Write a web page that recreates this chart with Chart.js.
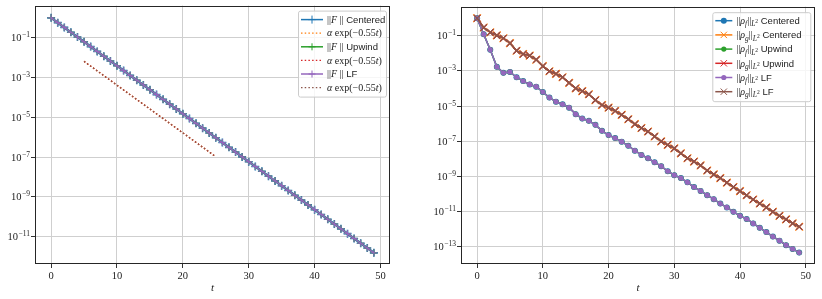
<!DOCTYPE html>
<html>
<head>
<meta charset="utf-8">
<script src="https://cdn.jsdelivr.net/npm/chart.js@4.4.1/dist/chart.umd.min.js"></script>
<style>
html, body { margin: 0; padding: 0; background: #fff; }
#wrap { position: relative; width: 822px; height: 299px; }
#wrap canvas { position: absolute; top: 0; }
</style>
</head>
<body>
<div id="wrap">
  <canvas id="leftChart" width="411" height="299" style="left:0"></canvas>
  <canvas id="rightChart" width="411" height="299" style="left:411px"></canvas>
</div>
<script>
// ---- data ----
const tValues = [0,1,2,3,4,5,6,7,8,9,10,11,12,13,14,15,16,17,18,19,20,21,22,23,24,
                 25,26,27,28,29,30,31,32,33,34,35,36,37,38,39,40,41,42,43,44,45,46,47,48,49];

// ||F|| for the three schemes (they lie on top of each other)
const fCentered = [1.0e0,5.74e-1,3.30e-1,1.89e-1,1.09e-1,6.24e-2,3.58e-2,2.06e-2,1.18e-2,6.78e-3,
                   3.89e-3,2.23e-3,1.28e-3,7.36e-4,4.23e-4,2.43e-4,1.39e-4,8.00e-5,4.59e-5,2.64e-5,
                   1.51e-5,8.69e-6,4.99e-6,2.86e-6,1.64e-6,9.44e-7,5.42e-7,3.11e-7,1.79e-7,1.03e-7,
                   5.89e-8,3.38e-8,1.94e-8,1.11e-8,6.40e-9,3.67e-9,2.11e-9,1.21e-9,6.95e-10,3.99e-10,
                   2.29e-10,1.32e-10,7.55e-11,4.34e-11,2.49e-11,1.43e-11,8.20e-12,4.71e-12,2.70e-12,1.55e-12];
const fUpwind = fCentered.slice();
const fLF = fCentered.slice();

// reference line alpha*exp(-0.55 t), drawn from t=5 to t=25
const refT = [5, 25];
const refValues = [6.5e-3, 1.05e-7];

// ||rho_f|| and ||rho_g|| (all schemes coincide)
const rhoF = [1.0e0,1.23e-1,1.62e-2,1.70e-3,7.76e-4,8.71e-4,4.37e-4,2.63e-4,1.70e-4,1.26e-4,
              6.31e-5,3.02e-5,1.78e-5,1.26e-5,8.13e-6,3.47e-6,1.95e-6,1.45e-6,8.51e-7,3.89e-7,
              2.24e-7,1.51e-7,9.33e-8,5.50e-8,2.88e-8,1.66e-8,1.07e-8,6.31e-9,3.80e-9,1.95e-9,
              1.17e-9,7.94e-10,4.57e-10,2.45e-10,1.48e-10,8.51e-11,5.01e-11,2.82e-11,1.70e-11,9.55e-12,
              5.62e-12,3.72e-12,2.09e-12,1.17e-12,6.76e-13,3.72e-13,2.19e-13,1.20e-13,7.41e-14,4.57e-14];
const rhoG = [1.0e0,2.95e-1,1.55e-1,1.05e-1,7.24e-2,3.80e-2,1.41e-2,9.12e-3,7.41e-3,4.37e-3,
              1.86e-3,9.55e-4,6.76e-4,4.37e-4,2.09e-4,1.02e-4,7.08e-5,4.68e-5,2.19e-5,1.15e-5,
              8.13e-6,5.25e-6,3.16e-6,1.78e-6,9.33e-7,5.62e-7,3.55e-7,1.86e-7,9.77e-8,6.17e-8,
              3.89e-8,2.04e-8,1.07e-8,6.92e-9,4.17e-9,2.14e-9,1.29e-9,7.94e-10,4.37e-10,2.45e-10,
              1.45e-10,8.32e-11,4.79e-11,2.82e-11,1.70e-11,9.55e-12,5.62e-12,3.55e-12,2.09e-12,1.35e-12];

// axis ticks and limits
const xTicks = [0, 10, 20, 30, 40, 50];
const xLimits = [-2.45, 51.45];
const leftYExponents = [-1, -3, -5, -7, -9, -11];
const rightYExponents = [-1, -3, -5, -7, -9, -11, -13];
const leftYLimits = [-12.37, 0.615];   // log10
const rightYLimits = [-13.99, 0.655];  // log10

// matplotlib tab10
const C = ['#1f77b4', '#ff7f0e', '#2ca02c', '#d62728', '#9467bd', '#8c564b'];

const pts = (xs, ys) => xs.map((x, i) => ({ x: x, y: ys[i] }));

// rich legend labels: [text, style]
const leftLegend = [
    [['||', 'm'], ['F', 'i'], [' ||', 'm'], [' Centered', 's']],
    [['α', 'i'], [' exp(−0.55', 'm'], ['t', 'i'], [')', 'm']],
    [['||', 'm'], ['F', 'i'], [' ||', 'm'], [' Upwind', 's']],
    [['α', 'i'], [' exp(−0.55', 'm'], ['t', 'i'], [')', 'm']],
    [['||', 'm'], ['F', 'i'], [' ||', 'm'], [' LF', 's']],
    [['α', 'i'], [' exp(−0.55', 'm'], ['t', 'i'], [')', 'm']]
];
const rhoLabel = (s, name) => [['||', 'm'], ['ρ', 'i'], [s, 'sub'], ['||', 'm'], ['L', 'sub'], ['2', 'subsup'], [' ' + name, 's']];
const rightLegend = [
    rhoLabel('f', 'Centered'), rhoLabel('g', 'Centered'),
    rhoLabel('f', 'Upwind'), rhoLabel('g', 'Upwind'),
    rhoLabel('f', 'LF'), rhoLabel('g', 'LF')
];

const FONTS = {
    m: { font: '10px "Liberation Serif"', dy: 0 },
    i: { font: 'italic 10px "Liberation Serif"', dy: 0 },
    s: { font: '9.5px "Liberation Sans"', dy: 0 },
    sub: { font: 'italic 7.5px "Liberation Serif"', dy: 2.5 },
    subsup: { font: '5.5px "Liberation Serif"', dy: -0.5 }
};

// frame, y tick labels, x title, and legend
const decoPlugin = {
    id: 'deco',
    afterDraw(chart, args, opts) {
        const ctx = chart.ctx;
        const a = chart.chartArea;
        ctx.save();

        // spines
        ctx.strokeStyle = '#262626';
        ctx.lineWidth = 1;
        ctx.strokeRect(Math.round(a.left) + 0.5, Math.round(a.top) + 0.5,
                       Math.round(a.right - a.left) - 1, Math.round(a.bottom - a.top) - 1);

        // y tick labels 10^n
        const ys = chart.scales.y;
        ctx.fillStyle = '#222';
        ctx.textBaseline = 'alphabetic';
        ctx.textAlign = 'left';
        ys.ticks.forEach(tk => {
            const py = ys.getPixelForValue(tk.value);
            const e = Math.round(Math.log10(tk.value));
            const expTxt = (e < 0 ? '−' : '') + Math.abs(e);
            ctx.font = '7.5px "Liberation Serif"';
            const we = ctx.measureText(expTxt).width;
            ctx.font = '10.5px "Liberation Serif"';
            const wb = ctx.measureText('10').width;
            const right = a.left - 5;
            ctx.fillText('10', right - we - wb - 0.5, py + 3.5);
            ctx.font = '7.5px "Liberation Serif"';
            ctx.fillText(expTxt, right - we, py - 0.5);
        });

        // x axis title
        ctx.font = 'italic 11px "Liberation Serif"';
        ctx.textAlign = 'center';
        ctx.fillText('t', (a.left + a.right) / 2, 291);

        // legend box
        const L = opts;
        const bx = a.right - L.offRight - L.width;
        const by = a.top + L.offTop;
        ctx.beginPath();
        ctx.roundRect(bx + 0.5, by + 0.5, L.width, L.height, 2);
        ctx.fillStyle = 'rgba(255,255,255,0.8)';
        ctx.fill();
        ctx.strokeStyle = '#cccccc';
        ctx.lineWidth = 1;
        ctx.stroke();

        chart.data.datasets.forEach((ds, i) => {
            const cy = by + L.rowStart + i * L.rowH;
            const x0 = bx + 3, x1 = x0 + L.handle;
            ctx.save();
            ctx.strokeStyle = ds.borderColor;
            ctx.lineWidth = Math.min(ds.borderWidth, 1.5);
            ctx.setLineDash(ds.borderDash || []);
            ctx.beginPath();
            ctx.moveTo(x0, cy);
            ctx.lineTo(x1, cy);
            ctx.stroke();
            ctx.restore();
            if (ds.pointRadius > 0) {
                ctx.save();
                ctx.strokeStyle = ds.borderColor;
                ctx.fillStyle = ds.backgroundColor;
                Chart.helpers.drawPoint(ctx, {
                    pointStyle: ds.pointStyle, radius: Math.min(ds.pointRadius, 4.5),
                    rotation: 0, borderWidth: Math.min(ds.pointBorderWidth, 1.2)
                }, (x0 + x1) / 2, cy);
                ctx.restore();
            }
            // text
            let tx = x1 + 4;
            ctx.fillStyle = '#222';
            ctx.textAlign = 'left';
            ctx.textBaseline = 'alphabetic';
            L.labels[i].forEach(([txt, st]) => {
                ctx.font = FONTS[st].font;
                ctx.fillText(txt, tx, cy + 3.2 + FONTS[st].dy);
                tx += ctx.measureText(txt).width;
            });
        });

        ctx.restore();
    }
};

function makeScales(yLimits, yExps, yWidth) {
    const grid = { color: '#cfcfcf', lineWidth: 1, tickColor: '#333', tickLength: 4, tickWidth: 1 };
    return {
        x: {
            type: 'linear',
            min: xLimits[0], max: xLimits[1],
            afterBuildTicks: s => { s.ticks = xTicks.map(v => ({ value: v })); },
            afterFit: s => { s.height = 35; },
            grid: grid,
            border: { display: false },
            ticks: { color: '#222', padding: 2, maxRotation: 0,
                     font: { family: 'Liberation Serif', size: 10.5 } }
        },
        y: {
            type: 'logarithmic',
            min: Math.pow(10, yLimits[0]), max: Math.pow(10, yLimits[1]),
            afterBuildTicks: s => { s.ticks = yExps.map(e => ({ value: Math.pow(10, e) })); },
            afterFit: s => { s.width = yWidth; },
            grid: grid,
            border: { display: false },
            ticks: { display: false }
        }
    };
}

document.addEventListener('DOMContentLoaded', function() {

    // ================= Left: ||F|| =================
    const fSeries = [fCentered, fUpwind, fLF];
    const leftSets = [];
    fSeries.forEach((vals, k) => {
        leftSets.push({
            label: ['||F|| Centered', '||F|| Upwind', '||F|| LF'][k],
            data: pts(tValues, vals),
            borderColor: C[2 * k], backgroundColor: C[2 * k],
            borderWidth: k === 0 ? 2.5 : 1.5, pointStyle: 'cross', pointRadius: k === 0 ? 4 : 3.5,
            pointBorderWidth: k === 0 ? 1.6 : 1, pointHoverRadius: 0
        });
        leftSets.push({
            label: 'α exp(−0.55t)',
            data: pts(refT, refValues),
            borderColor: C[2 * k + 1], backgroundColor: C[2 * k + 1],
            borderWidth: 1.3, borderDash: [1.5, 2.2], pointRadius: 0
        });
    });
    leftSets.forEach((d, i) => { d.order = leftSets.length - i; });

    new Chart(document.getElementById('leftChart'), {
        type: 'line',
        data: { datasets: leftSets },
        options: {
            responsive: false, animation: false,
            layout: { padding: { left: 0, top: 5, right: 21, bottom: 0 } },
            scales: makeScales(leftYLimits, leftYExponents, 35),
            plugins: {
                legend: { display: false }, tooltip: { enabled: false },
                deco: { labels: leftLegend, offRight: 4, offTop: 5, width: 88, height: 86,
                        rowStart: 9, rowH: 13.6, handle: 22 }
            }
        },
        plugins: [decoPlugin]
    });

    // ================= Right: ||rho|| =================
    const names = ['Centered', 'Upwind', 'LF'];
    const rightSets = [];
    names.forEach((nm, k) => {
        rightSets.push({
            label: '||ρf||L2 ' + nm,
            data: pts(tValues, rhoF),
            borderColor: C[2 * k], backgroundColor: C[2 * k],
            borderWidth: 1.5, pointStyle: 'circle', pointRadius: k === 0 ? 3 : 2.6,
            pointBorderWidth: 0, pointHoverRadius: 0
        });
        rightSets.push({
            label: '||ρg||L2 ' + nm,
            data: pts(tValues, rhoG),
            borderColor: C[2 * k + 1], backgroundColor: C[2 * k + 1],
            borderWidth: 1.5, pointStyle: 'crossRot', pointRadius: k === 0 ? 5.5 : 4.5,
            pointBorderWidth: 1.2, pointHoverRadius: 0
        });
    });
    rightSets.forEach((d, i) => { d.order = rightSets.length - i; });

    new Chart(document.getElementById('rightChart'), {
        type: 'line',
        data: { datasets: rightSets },
        options: {
            responsive: false, animation: false,
            layout: { padding: { left: 0, top: 5, right: 6, bottom: 0 } },
            scales: makeScales(rightYLimits, rightYExponents, 50),
            plugins: {
                legend: { display: false }, tooltip: { enabled: false },
                deco: { labels: rightLegend, offRight: 5, offTop: 5.5, width: 98, height: 89,
                        rowStart: 8.5, rowH: 14.2, handle: 17 }
            }
        },
        plugins: [decoPlugin]
    });
});
</script>
</body>
</html>
